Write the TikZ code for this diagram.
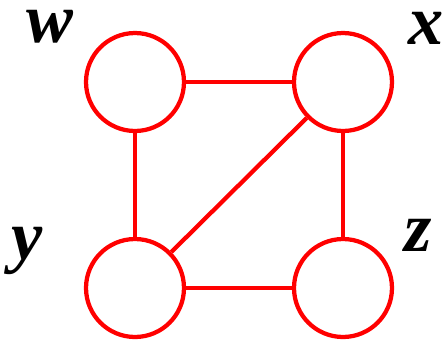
\documentclass[tikz,border=0pt]{standalone}
\usepackage{fontspec}
\newfontfamily\lblfont{Liberation Serif}
\usetikzlibrary{positioning}

\begin{document}
\begin{tikzpicture}[
  x=0.02cm, y=-0.02cm,
  vtx/.style={draw=red, circle, line width=0.085cm, minimum size=1.96cm, inner sep=0pt},
  lbl/.style={inner sep=0pt, font=\lblfont\fontsize{40}{42}\selectfont\bfseries\itshape},
  edge/.style={draw=red, line width=0.085cm}
]
\useasboundingbox (0,0) rectangle (444,343);
\node[vtx] (w) at (135,82) {};
\node[vtx] (x) at (343,82) {};
\node[vtx] (y) at (135,288) {};
\node[vtx] (z) at (343,288) {};
\node[lbl] (lw) at (50,27) {w};
\node[lbl] (lx) at (426,28) {x};
\node[lbl] (ly) at (27,251) {y};
\node[lbl] (lz) at (418,235) {z};
\draw[edge] (w) -- (x);
\draw[edge] (w) -- (y);
\draw[edge] (x) -- (z);
\draw[edge] (y) -- (z);
\draw[edge] (x) -- (y);
\end{tikzpicture}
\end{document}
